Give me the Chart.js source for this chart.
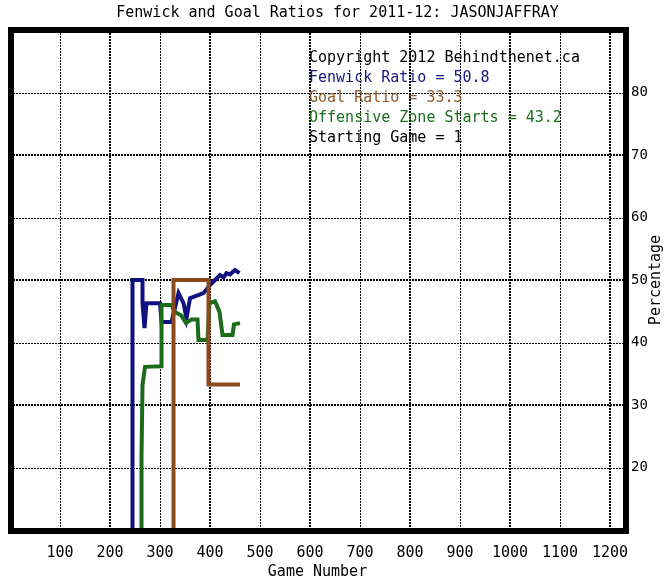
<!DOCTYPE html>
<html>
<head>
<meta charset="utf-8">
<title>Fenwick and Goal Ratios</title>
<script src="https://cdn.jsdelivr.net/npm/chart.js@4.4.0/dist/chart.umd.min.js"></script>
<style>
  html, body { margin: 0; padding: 0; background: #fff; }
</style>
</head>
<body>
<canvas id="chart" width="665" height="580"></canvas>
<script>
// values (game number / percentage)
const fenwickGames  = [245, 245, 265, 265, 269, 273, 300, 303, 323, 337, 347, 353, 360, 367, 387, 400, 410, 420, 427, 433, 440, 450, 459];
const fenwickValues = [0, 50, 50, 46.3, 42.3, 46.3, 46.3, 43.3, 43.3, 47.9, 46.3, 43.9, 47.1, 47.3, 47.9, 49.2, 50, 50.8, 50.4, 51.1, 50.9, 51.6, 51.1];

const goalGames  = [327, 327, 397, 397, 460];
const goalValues = [0, 50, 50, 33.3, 33.3];

const ozsGames  = [263, 263, 265, 270, 302, 303, 323, 330, 343, 352, 363, 375, 377, 395, 399, 410, 419, 425, 445, 448, 460];
const ozsValues = [0, 21.7, 33.2, 36.1, 36.2, 46, 46, 44.9, 44.3, 43.1, 43.7, 43.7, 40.4, 40.4, 46.3, 46.6, 44.9, 41.2, 41.2, 42.9, 43.1];

const xTicks = [100, 200, 300, 400, 500, 600, 700, 800, 900, 1000, 1100, 1200];
const yTicks = [20, 30, 40, 50, 60, 70, 80];

const noteLines = ["Copyright 2012 Behindthenet.ca", "Fenwick Ratio = 50.8", "Goal Ratio = 33.3", "Offensive Zone Starts = 43.2", "Starting Game = 1"];
const noteColors = ["#000000", "#16167c", "#8b5a2b", "#1a6e1a", "#000000"];

const FONT = "'DejaVu Sans Mono', monospace";

function toPoints(xs, ys) {
  return xs.map((g, i) => ({ x: g, y: ys[i] }));
}

function series(label, xs, ys, color, order) {
  return {
    label: label,
    data: toPoints(xs, ys),
    borderColor: color,
    backgroundColor: color,
    borderWidth: 4,
    pointRadius: 0,
    tension: 0,
    borderJoinStyle: "miter",
    clip: 0,
    order: order
  };
}

// dotted / hatched grid like the original image
const gridPlugin = {
  id: "oldGrid",
  beforeDatasetsDraw(chart) {
    const ctx = chart.ctx;
    const a = chart.chartArea;
    const xs = chart.scales.x, ys = chart.scales.y;
    ctx.save();
    ctx.strokeStyle = "#000";
    ctx.setLineDash([2, 1]);
    xTicks.forEach(v => {
      const px = Math.round(xs.getPixelForValue(v));
      const odd = (v / 100) % 2 === 1;
      ctx.lineWidth = odd ? 1 : 2;
      ctx.beginPath();
      ctx.moveTo(px + (odd ? 0.5 : 0), a.top);
      ctx.lineTo(px + (odd ? 0.5 : 0), a.bottom);
      ctx.stroke();
    });
    yTicks.forEach(v => {
      const py = Math.round(ys.getPixelForValue(v));
      const dotted = (v / 10) % 2 === 0;
      ctx.lineWidth = dotted ? 1 : 2;
      ctx.beginPath();
      ctx.moveTo(a.left, py + (dotted ? 0.5 : 0));
      ctx.lineTo(a.right, py + (dotted ? 0.5 : 0));
      ctx.stroke();
    });
    ctx.restore();
  },
  afterDatasetsDraw(chart) {
    const ctx = chart.ctx;
    const a = chart.chartArea;
    const xs = chart.scales.x;
    ctx.save();
    ctx.font = "15px " + FONT;
    ctx.textBaseline = "middle";
    ctx.textAlign = "left";
    const tx = xs.getPixelForValue(598);
    noteLines.forEach((t, i) => {
      ctx.fillStyle = noteColors[i];
      ctx.fillText(t, tx, a.top + 28 + i * 20);
    });
    // heavy frame
    ctx.strokeStyle = "#000";
    ctx.lineWidth = 6;
    ctx.setLineDash([]);
    ctx.strokeRect(a.left + 1, a.top, a.right - a.left, a.bottom - a.top + 1);
    // y axis title, reading bottom to top
    ctx.fillStyle = "#000";
    ctx.textAlign = "center";
    ctx.translate(chart.width - 9, (a.top + a.bottom) / 2);
    ctx.rotate(-Math.PI / 2);
    ctx.fillText("Percentage", 0, 0);
    ctx.restore();
  }
};

new Chart(document.getElementById("chart"), {
  type: "line",
  data: {
    datasets: [
      series("Fenwick Ratio", fenwickGames, fenwickValues, "#10107f", 2),
      series("Goal Ratio", goalGames, goalValues, "#8b4a1c", 0),
      series("Offensive Zone Starts", ozsGames, ozsValues, "#1a6b1a", 1)
    ]
  },
  options: {
    responsive: false,
    animation: false,
    events: [],
    layout: { padding: { left: 10, right: 0, top: 0, bottom: 0 } },
    plugins: {
      legend: { display: false },
      tooltip: { enabled: false },
      title: {
        display: true,
        text: "Fenwick and Goal Ratios for 2011-12: JASONJAFFRAY",
        color: "#000",
        font: { family: FONT, size: 15, weight: "normal", lineHeight: 1.2 },
        padding: { top: 4, bottom: 8 }
      }
    },
    scales: {
      x: {
        type: "linear",
        position: "bottom",
        min: 0,
        max: 1230,
        grid: { display: false, drawTicks: false },
        border: { display: false },
        afterBuildTicks: s => { s.ticks = xTicks.map(v => ({ value: v })); },
        afterFit: s => { s.height = 50; },
        ticks: {
          color: "#000",
          font: { family: FONT, size: 15 },
          padding: 14,
          maxRotation: 0,
          autoSkip: false,
          callback: v => String(v)
        },
        title: {
          display: true,
          text: "Game Number",
          color: "#000",
          font: { family: FONT, size: 15, lineHeight: 1 },
          padding: { top: 0, bottom: 0 }
        }
      },
      y: {
        type: "linear",
        position: "right",
        min: 10,
        max: 90,
        grid: { display: false, drawTicks: false },
        border: { display: false },
        afterBuildTicks: s => { s.ticks = yTicks.map(v => ({ value: v })); },
        afterFit: s => { s.width = 40; },
        ticks: {
          color: "#000",
          font: { family: FONT, size: 14 },
          padding: 6,
          callback: v => String(v)
        },
        title: { display: false }
      }
    }
  },
  plugins: [gridPlugin]
});
</script>
</body>
</html>
